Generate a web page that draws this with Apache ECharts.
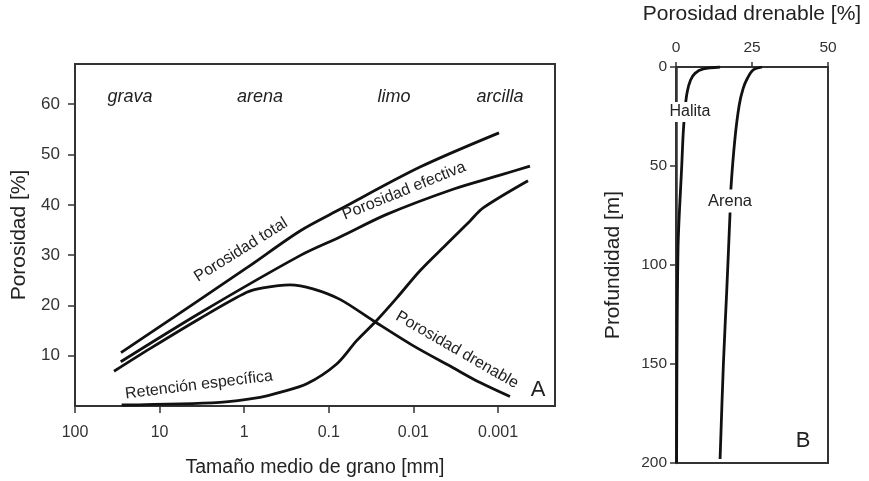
<!doctype html>
<html>
<head>
<meta charset="utf-8">
<title>Porosidad</title>
<script src="https://cdn.jsdelivr.net/npm/echarts@6/dist/echarts.min.js"></script>
<style>
  html, body { margin: 0; padding: 0; background: #fff; }
  #main { width: 869px; height: 481px; }
</style>
</head>
<body>
<div id="main"></div>
<script>
// panel A: grain size [mm] vs porosity [%]
var sizeTicks = [100, 10, 1, 0.1, 0.01, 0.001];
var porTicks = [10, 20, 30, 40, 50, 60];

var totalSize = [28.6, 0.927, 0.219, 0.0738, 0.00836, 0.000973];
var totalPor = [10.6, 27.5, 34.8, 39.1, 47.5, 54.3];

var efectivaSize = [28.8, 3.33, 0.219, 0.0738, 0.0207, 0.0034, 0.000946, 0.000419];
var efectivaPor = [8.8, 18.5, 29.9, 33.6, 38.1, 43.1, 45.9, 47.7];

var drenableSize = [34.6, 13.0, 3.33, 0.933, 0.600, 0.288, 0.154, 0.0738, 0.0301, 0.0101, 0.0034, 0.00163, 0.000722];
var drenablePor = [6.9, 11.4, 17.4, 22.6, 23.5, 24.1, 23.3, 21.2, 17.0, 12.0, 7.6, 4.65, 1.87];

var retencionSize = [28.1, 1.93, 0.650, 0.378, 0.182, 0.0807, 0.0468, 0.0272, 0.0157, 0.00836, 0.00404, 0.00214, 0.00150, 0.000442];
var retencionPor = [0.2, 0.73, 1.7, 2.7, 4.4, 8.35, 13.0, 17.0, 21.5, 26.9, 32.2, 36.8, 39.4, 44.8];

// panel B: drainable porosity [%] vs depth [m]
var halitaPor = [14.5, 9.0, 6.25, 4.8, 3.7, 3.0, 2.4, 1.9, 0.66, 0.2];
var halitaDepth = [0, 1.0, 3.2, 6.6, 12.5, 20.7, 32.7, 49.5, 92, 200];

var arenaPor = [28.3, 25.4, 23.5, 22.1, 20.8, 19.4, 18.1, 17.8, 16.7, 15.6, 14.5];
var arenaDepth = [0, 1.5, 5.7, 10.8, 19.2, 36, 60.5, 73, 112.6, 149.6, 198];

function pairs(xs, ys) {
  return xs.map(function (x, i) { return [x, ys[i]]; });
}

function sizeLabel(v) {
  if (v >= 1) return String(Math.round(v));
  var d = Math.round(-Math.log10(v));
  return v.toFixed(d);
}

var font = 'Liberation Sans, Arial, sans-serif';
var ink = '#111';
var axisColor = '#333';

var myChart = echarts.init(document.getElementById('main'));

var lineStyle = { color: ink, width: 2.8 };

function curve(name, data, xi, yi, smooth) {
  return {
    name: name,
    type: 'line',
    xAxisIndex: xi,
    yAxisIndex: yi,
    data: data,
    smooth: smooth,
    symbol: 'none',
    lineStyle: lineStyle,
    silent: true
  };
}

function txt(text, x, y, size, deg, extra) {
  var s = {
    text: text,
    font: size + 'px ' + font,
    fill: '#222',
    textAlign: 'center',
    textVerticalAlign: 'middle'
  };
  if (extra) for (var k in extra) s[k] = extra[k];
  return {
    type: 'text',
    x: x,
    y: y,
    rotation: (deg || 0) * Math.PI / 180,
    z: 100,
    style: s
  };
}

option = {
  animation: false,
  backgroundColor: '#fff',
  textStyle: { fontFamily: font },
  grid: [
    { left: 75, right: 314, top: 64, bottom: 75, containLabel: false, outerBoundsMode: 'none',
      show: true, borderColor: axisColor, borderWidth: 2 },
    { left: 676, right: 41, top: 67, bottom: 18, containLabel: false, outerBoundsMode: 'none',
      show: true, borderColor: axisColor, borderWidth: 2 }
  ],
  xAxis: [
    {
      gridIndex: 0,
      type: 'log',
      logBase: 10,
      min: 0.000212,
      max: 100,
      inverse: true,
      axisLine: { show: true, lineStyle: { color: axisColor, width: 2 } },
      axisTick: { show: true, length: 7, customValues: sizeTicks, lineStyle: { color: axisColor, width: 1.5 } },
      axisLabel: { customValues: sizeTicks, formatter: sizeLabel, color: '#333', fontSize: 16, margin: 19, fontFamily: font },
      splitLine: { show: false },
      name: 'Tamaño medio de grano [mm]',
      nameLocation: 'middle',
      nameGap: 52,
      nameTextStyle: { color: '#222', fontSize: 19.5, fontFamily: font }
    },
    {
      gridIndex: 1,
      type: 'value',
      position: 'top',
      min: 0,
      max: 50,
      interval: 25,
      axisLine: { show: true, lineStyle: { color: axisColor, width: 2 } },
      axisTick: { show: true, length: 5, lineStyle: { color: axisColor, width: 1.5 } },
      axisLabel: { color: '#333', fontSize: 15.5, margin: 11, fontFamily: font },
      splitLine: { show: false },
      name: 'Porosidad drenable [%]',
      nameLocation: 'middle',
      nameGap: 42,
      nameTextStyle: { color: '#222', fontSize: 21, fontFamily: font }
    }
  ],
  yAxis: [
    {
      gridIndex: 0,
      type: 'value',
      min: 0,
      max: 68,
      axisLine: { show: true, lineStyle: { color: axisColor, width: 2 } },
      axisTick: { show: true, length: 7, customValues: porTicks, lineStyle: { color: axisColor, width: 1.5 } },
      axisLabel: { customValues: porTicks, color: '#333', fontSize: 17, margin: 15, fontFamily: font },
      splitLine: { show: false },
      name: 'Porosidad [%]',
      nameLocation: 'middle',
      nameGap: 45,
      nameTextStyle: { color: '#222', fontSize: 21, fontFamily: font }
    },
    {
      gridIndex: 1,
      type: 'value',
      min: 0,
      max: 200,
      interval: 50,
      inverse: true,
      axisLine: { show: true, lineStyle: { color: axisColor, width: 2.5 } },
      axisTick: { show: true, length: 6, lineStyle: { color: axisColor, width: 1.5 } },
      axisLabel: { color: '#333', fontSize: 15.5, margin: 9, fontFamily: font },
      splitLine: { show: false },
      name: 'Profundidad [m]',
      nameLocation: 'middle',
      nameGap: 52,
      nameTextStyle: { color: '#222', fontSize: 21, fontFamily: font }
    }
  ],
  series: [
    curve('Porosidad total', pairs(totalSize, totalPor), 0, 0, 0.3),
    curve('Porosidad efectiva', pairs(efectivaSize, efectivaPor), 0, 0, 0.3),
    curve('Porosidad drenable', pairs(drenableSize, drenablePor), 0, 0, 0.3),
    curve('Retención específica', pairs(retencionSize, retencionPor), 0, 0, 0.3),
    curve('Halita', pairs(halitaPor, halitaDepth), 1, 1, 0.3),
    curve('Arena', pairs(arenaPor, arenaDepth), 1, 1, 0.3)
  ],
  graphic: [
    txt('grava', 130, 97, 18, 0, { font: 'italic 18px ' + font }),
    txt('arena', 260, 97, 18, 0, { font: 'italic 18px ' + font }),
    txt('limo', 394, 97, 18, 0, { font: 'italic 18px ' + font }),
    txt('arcilla', 500, 97, 18, 0, { font: 'italic 18px ' + font }),
    txt('Porosidad total', 241, 250, 16, 32),
    txt('Porosidad efectiva', 404, 191, 16, 22),
    txt('Porosidad drenable', 457, 350, 16, -30),
    txt('Retención específica', 199, 385, 16, 7),
    txt('A', 538, 390, 22),
    txt('Halita', 690, 112, 16, 0, { backgroundColor: '#fff', padding: [2, 1] }),
    txt('Arena', 730, 201, 16.5, 0, { backgroundColor: '#fff', padding: [3, 1] }),
    txt('B', 803, 441, 22)
  ]
};

myChart.setOption(option);
</script>
</body>
</html>
